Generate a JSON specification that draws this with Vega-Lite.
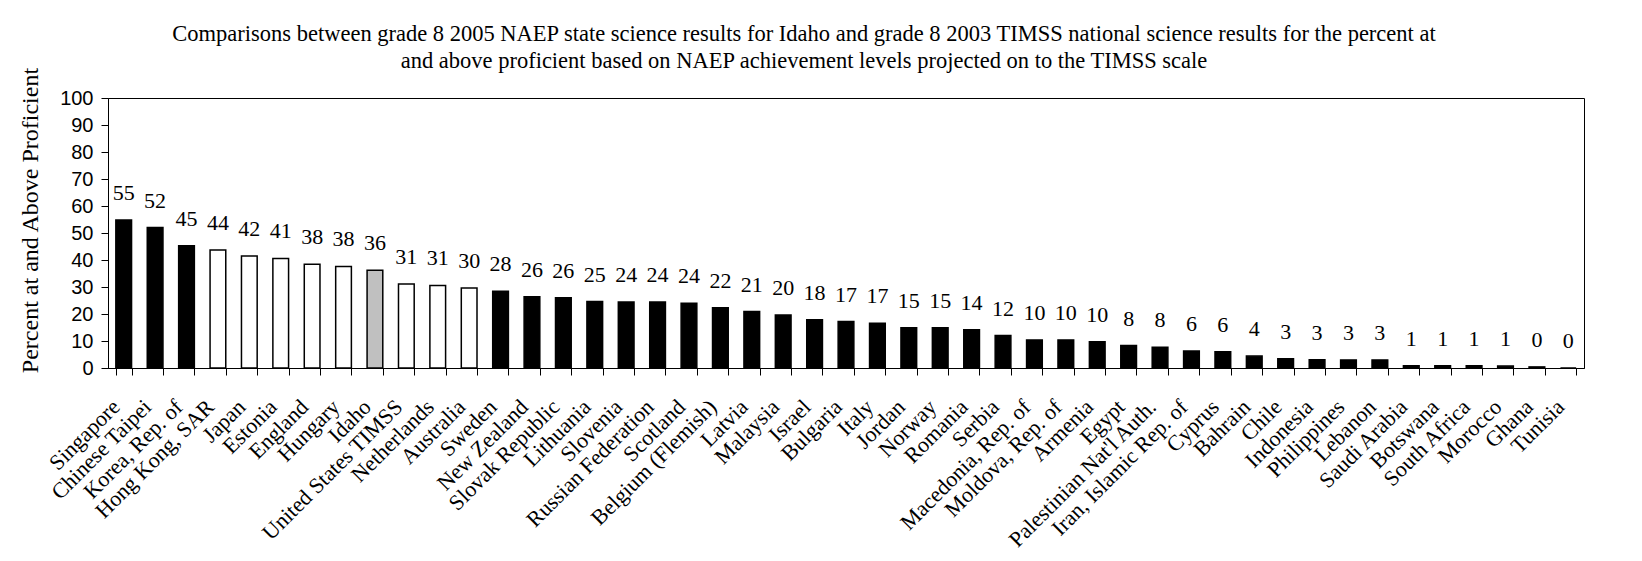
{
  "$schema": "https://vega.github.io/schema/vega-lite/v6.json",
  "width": 1476,
  "height": 270,
  "autosize": {"type": "none"},
  "padding": {"left": 108, "top": 98, "right": 58, "bottom": 193},
  "background": "white",
  "title": {
    "text": ["Comparisons between grade 8 2005 NAEP state science results for Idaho and grade 8 2003 TIMSS national science results for the percent at", "and above proficient based on NAEP achievement levels projected on to the TIMSS scale"],
    "font": "Liberation Serif",
    "fontSize": 22.5,
    "fontWeight": "normal",
    "color": "black",
    "lineHeight": 27.5,
    "anchor": "middle",
    "dx": -42,
    "offset": -6
  },
  "config": {
    "view": {"stroke": "black", "strokeWidth": 1},
    "text": {"font": "Liberation Serif", "fontSize": 22},
    "axis": {"domainColor": "black", "tickColor": "black", "labelColor": "black", "titleColor": "black", "grid": false}
  },
  "data": {
    "values": [
      {"country": "Singapore", "value": 54.8, "group": "higher"},
      {"country": "Chinese Taipei", "value": 52.0, "group": "higher"},
      {"country": "Korea, Rep. of", "value": 45.3, "group": "higher"},
      {"country": "Hong Kong, SAR", "value": 43.7, "group": "same"},
      {"country": "Japan", "value": 41.5, "group": "same"},
      {"country": "Estonia", "value": 40.6, "group": "same"},
      {"country": "England", "value": 38.4, "group": "same"},
      {"country": "Hungary", "value": 37.6, "group": "same"},
      {"country": "Idaho", "value": 36.2, "group": "state"},
      {"country": "United States TIMSS", "value": 31.1, "group": "same"},
      {"country": "Netherlands", "value": 30.6, "group": "same"},
      {"country": "Australia", "value": 29.6, "group": "same"},
      {"country": "Sweden", "value": 28.4, "group": "lower"},
      {"country": "New Zealand", "value": 26.4, "group": "lower"},
      {"country": "Slovak Republic", "value": 26.0, "group": "lower"},
      {"country": "Lithuania", "value": 24.6, "group": "lower"},
      {"country": "Slovenia", "value": 24.4, "group": "lower"},
      {"country": "Russian Federation", "value": 24.4, "group": "lower"},
      {"country": "Scotland", "value": 24.0, "group": "lower"},
      {"country": "Belgium (Flemish)", "value": 22.3, "group": "lower"},
      {"country": "Latvia", "value": 20.9, "group": "lower"},
      {"country": "Malaysia", "value": 19.6, "group": "lower"},
      {"country": "Israel", "value": 17.9, "group": "lower"},
      {"country": "Bulgaria", "value": 17.2, "group": "lower"},
      {"country": "Italy", "value": 16.6, "group": "lower"},
      {"country": "Jordan", "value": 14.9, "group": "lower"},
      {"country": "Norway", "value": 14.9, "group": "lower"},
      {"country": "Romania", "value": 14.2, "group": "lower"},
      {"country": "Serbia", "value": 12.0, "group": "lower"},
      {"country": "Macedonia, Rep. of", "value": 10.4, "group": "lower"},
      {"country": "Moldova, Rep. of", "value": 10.4, "group": "lower"},
      {"country": "Armenia", "value": 9.7, "group": "lower"},
      {"country": "Egypt", "value": 8.3, "group": "lower"},
      {"country": "Palestinian Nat'l Auth.", "value": 7.7, "group": "lower"},
      {"country": "Iran, Islamic Rep. of", "value": 6.3, "group": "lower"},
      {"country": "Cyprus", "value": 6.0, "group": "lower"},
      {"country": "Bahrain", "value": 4.4, "group": "lower"},
      {"country": "Chile", "value": 3.4, "group": "lower"},
      {"country": "Indonesia", "value": 3.1, "group": "lower"},
      {"country": "Philippines", "value": 3.0, "group": "lower"},
      {"country": "Lebanon", "value": 3.0, "group": "lower"},
      {"country": "Saudi Arabia", "value": 0.8, "group": "lower"},
      {"country": "Botswana", "value": 0.8, "group": "lower"},
      {"country": "South Africa", "value": 0.8, "group": "lower"},
      {"country": "Morocco", "value": 0.7, "group": "lower"},
      {"country": "Ghana", "value": 0.4, "group": "lower"},
      {"country": "Tunisia", "value": 0, "group": "lower"}
    ]
  },
  "encoding": {
    "x": {
      "field": "country",
      "type": "nominal",
      "sort": null,
      "scale": {"paddingInner": 0.5, "paddingOuter": 0.25},
      "axis": {
        "title": null,
        "tickBand": "extent",
        "tickSize": 7,
        "labelAngle": -45,
        "labelAlign": "right",
        "labelBaseline": "middle",
        "labelFont": "Liberation Serif",
        "labelFontSize": 22,
        "labelPadding": 28,
        "labelOffset": -8,
        "labelOverlap": false,
        "labelLimit": 400
      }
    },
    "y": {
      "field": "value",
      "type": "quantitative",
      "scale": {"domain": [0, 100], "nice": false},
      "axis": {
        "title": "Percent at and Above Proficient",
        "values": [0, 10, 20, 30, 40, 50, 60, 70, 80, 90, 100],
        "tickSize": 7,
        "labelFont": "Liberation Sans",
        "labelFontSize": 20,
        "labelPadding": 8,
        "titleFont": "Liberation Serif",
        "titleFontSize": 24,
        "titleFontWeight": "normal",
        "titleAngle": -90,
        "titleBaseline": "alphabetic",
        "titleAlign": "center",
        "titleX": -71,
        "titleY": 122
      }
    }
  },
  "layer": [
    {
      "mark": {"type": "bar", "stroke": "black", "strokeWidth": 1.5},
      "encoding": {
        "color": {
          "field": "group",
          "type": "nominal",
          "scale": {"domain": ["higher", "same", "state", "lower"], "range": ["black", "white", "#c0c0c0", "black"]},
          "legend": null
        }
      }
    },
    {
      "mark": {"type": "text", "font": "Liberation Serif", "fontSize": 22, "baseline": "alphabetic", "dy": -20, "fill": "black"},
      "encoding": {
        "text": {"field": "value", "type": "quantitative", "format": ".0f"}
      }
    }
  ]
}
